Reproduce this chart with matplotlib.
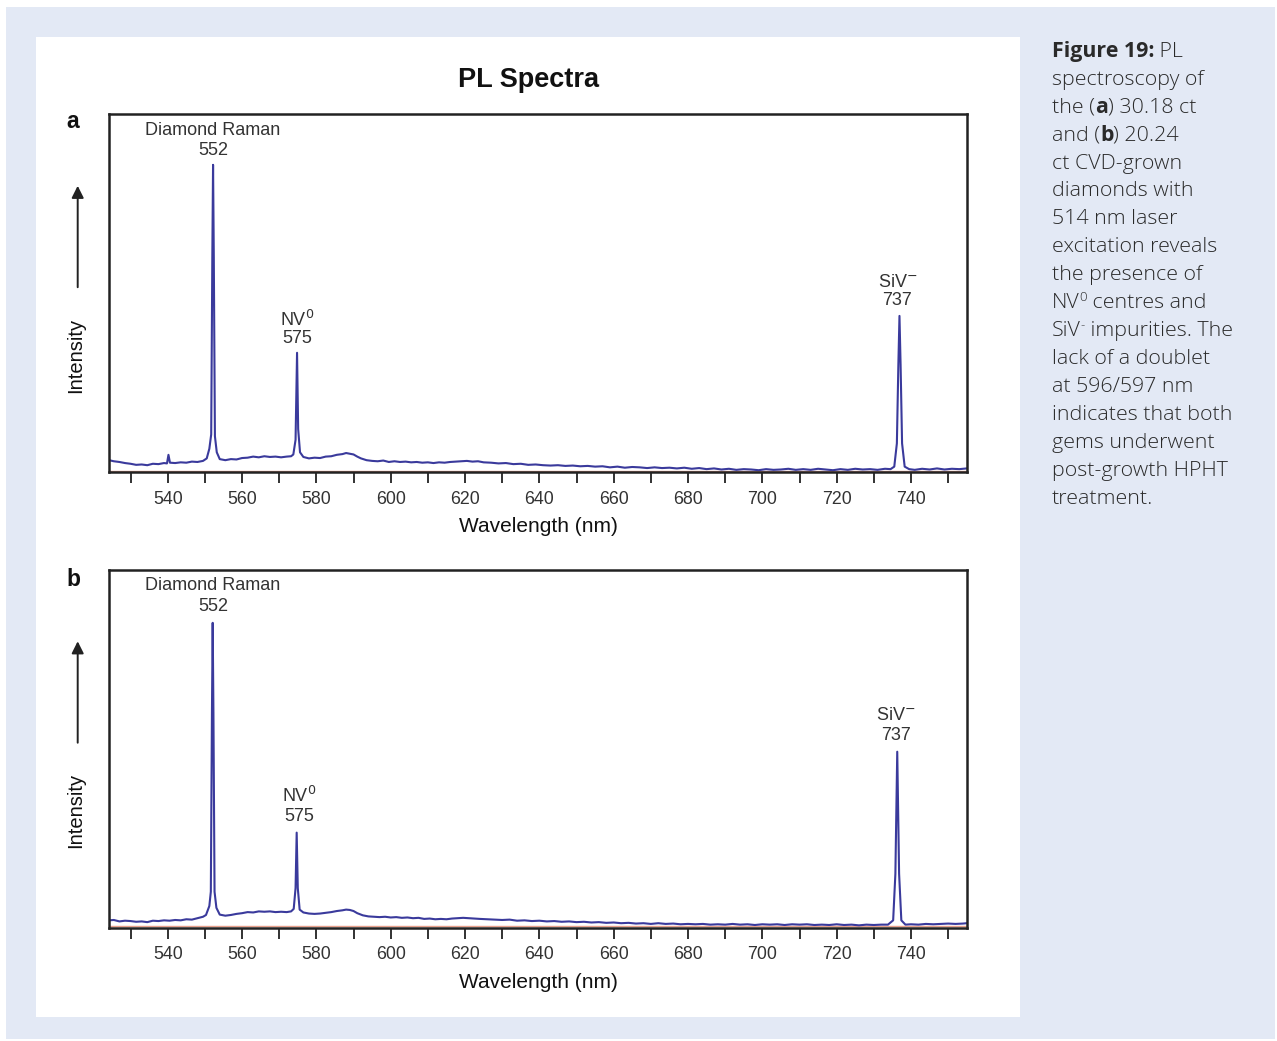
import matplotlib
matplotlib.use("Agg")
import matplotlib.pyplot as plt
from matplotlib.patches import Rectangle, FancyArrowPatch
from matplotlib.font_manager import FontProperties
from matplotlib.ticker import MultipleLocator

# ---------------- data ----------------
# (wavelength nm, relative intensity) pairs, panel a
spec_a = [
    (524.2, 3.3), (525.5, 3.0), (527, 2.8), (528.5, 2.5), (530, 2.3), (531.5, 2.0), (533, 2.1),
    (534.5, 1.9), (536, 2.3), (537.5, 2.2), (539, 2.5), (539.8, 2.4), (540.2, 4.8), (540.6, 2.6),
    (542, 2.5), (543.5, 2.7), (545, 2.6), (546.5, 2.9), (548, 2.8), (549.5, 3.1), (550.5, 3.8),
    (551.2, 6.5), (551.7, 10.5), (552.0, 60), (552.2, 85.8), (552.4, 60), (552.7, 10), (553.2, 5.5),
    (554, 3.6), (555.5, 3.3), (557, 3.6), (558.5, 3.5), (560, 3.9), (561.5, 4.0), (563, 4.3),
    (564.5, 4.1), (566, 4.4), (567.5, 4.2), (569, 4.3), (570.5, 4.1), (572, 4.3), (573.2, 4.4),
    (573.8, 4.9), (574.4, 9.0), (574.8, 33.3), (575.1, 12), (575.6, 5.5), (576.5, 4.2), (578, 3.8),
    (579.5, 4.0), (581, 3.9), (582.5, 4.3), (584, 4.4), (585.5, 4.8), (587, 5.0), (588, 5.3),
    (589, 5.1), (590, 4.9), (591, 4.3), (592, 3.8), (593.5, 3.3), (595, 3.1), (596.5, 3.0),
    (598, 3.2), (599.5, 2.8), (601, 3.0), (602.5, 2.8), (604, 2.9), (605.5, 2.7), (607, 2.8),
    (608.5, 2.6), (610, 2.7), (611.5, 2.5), (613, 2.7), (614.5, 2.6), (616, 2.8), (617.5, 2.9),
    (619, 3.0), (620.5, 3.1), (622, 2.9), (623.5, 3.0), (625, 2.7), (627, 2.6), (629, 2.4),
    (631, 2.5), (633, 2.2), (635, 2.3), (637, 2.0), (639, 2.1), (641, 1.9), (643, 1.8), (645, 1.9),
    (647, 1.7), (649, 1.8), (651, 1.6), (653, 1.7), (655, 1.5), (657, 1.6), (659, 1.3), (661, 1.5),
    (663, 1.2), (665, 1.4), (667, 1.3), (669, 1.1), (671, 1.3), (673, 1.1), (675, 1.2), (677, 1.0),
    (679, 1.2), (681, 0.9), (683, 1.1), (685, 0.8), (687, 1.0), (689, 0.7), (691, 0.9), (693, 0.6),
    (695, 0.8), (697, 0.7), (699, 0.5), (701, 0.8), (703, 0.6), (705, 0.7), (707, 0.9), (709, 0.6),
    (711, 0.8), (713, 0.6), (715, 0.9), (717, 0.7), (719, 0.5), (721, 0.8), (723, 0.6), (725, 0.9),
    (727, 0.7), (729, 0.8), (731, 0.6), (733, 0.9), (734.5, 0.8), (735.5, 1.5), (736.2, 8),
    (736.6, 30), (736.9, 43.6), (737.2, 30), (737.6, 8), (738.3, 1.5), (739.5, 0.8), (741, 0.6),
    (743, 0.9), (745, 0.7), (747, 1.0), (749, 0.7), (751, 0.9), (753, 0.8), (755, 1.0),
]
# panel b
spec_b = [
    (524.2, 2.0), (525.5, 2.1), (527, 1.7), (528.5, 1.9), (530, 1.8), (531.5, 1.6), (533, 1.7),
    (534.5, 1.5), (536, 1.9), (537.5, 1.8), (539, 2.0), (540.5, 1.9), (542, 2.1), (543.5, 2.0),
    (545, 2.3), (546.5, 2.2), (548, 2.6), (549.5, 3.0), (550.3, 3.5), (551.2, 6), (551.6, 10),
    (551.9, 60), (552.1, 85.1), (552.3, 60), (552.6, 10), (553.1, 5.5), (554, 3.6), (555.5, 3.3),
    (557, 3.5), (558.5, 3.8), (560, 4.0), (561.5, 4.3), (563, 4.2), (564.5, 4.5), (566, 4.4),
    (567.5, 4.5), (569, 4.3), (570.5, 4.4), (572, 4.3), (573.2, 4.5), (573.9, 5.2), (574.4, 11),
    (574.7, 26.5), (575.0, 11), (575.5, 5), (576.5, 4.2), (578, 3.9), (579.5, 3.8), (581, 3.9),
    (582.5, 4.1), (584, 4.3), (585.5, 4.6), (587, 4.8), (588, 5.0), (589, 4.9), (590, 4.6),
    (591, 4.0), (592.5, 3.4), (594, 3.1), (595.5, 3.0), (597, 2.9), (598.5, 3.0), (600, 2.8),
    (601.5, 2.9), (603, 2.7), (604.5, 2.8), (606, 2.6), (607.5, 2.7), (609, 2.4), (610.5, 2.5),
    (612, 2.3), (613.5, 2.4), (615, 2.3), (616.5, 2.5), (618, 2.6), (619.5, 2.7), (621, 2.6),
    (622.5, 2.5), (624, 2.4), (626, 2.3), (628, 2.2), (630, 2.1), (632, 2.2), (634, 1.9),
    (636, 2.0), (638, 1.8), (640, 1.9), (642, 1.7), (644, 1.8), (646, 1.6), (648, 1.7), (650, 1.5),
    (652, 1.6), (654, 1.4), (656, 1.5), (658, 1.3), (660, 1.4), (662, 1.2), (664, 1.3), (666, 1.1),
    (668, 1.2), (670, 1.0), (672, 1.2), (674, 1.0), (676, 1.1), (678, 0.9), (680, 1.0), (682, 0.9),
    (684, 1.0), (686, 0.8), (688, 0.9), (690, 0.8), (692, 1.0), (694, 0.8), (696, 0.9), (698, 0.7),
    (700, 0.9), (702, 0.8), (704, 0.9), (706, 0.7), (708, 0.9), (710, 0.8), (712, 0.9), (714, 0.7),
    (716, 0.8), (718, 0.7), (720, 0.9), (722, 0.7), (724, 0.8), (726, 0.6), (728, 0.8), (730, 0.7),
    (732, 0.8), (733.8, 0.8), (735.2, 2), (735.8, 15), (736.1, 35), (736.3, 49.1), (736.5, 35),
    (736.8, 15), (737.4, 2), (738.5, 0.8), (740, 0.9), (742, 0.8), (744, 1.0), (746, 0.9),
    (748, 1.0), (750, 1.1), (752, 1.0), (754, 1.1), (755, 1.2),
]
wl_a = [p[0] for p in spec_a]
int_a = [p[1] for p in spec_a]
wl_b = [p[0] for p in spec_b]
int_b = [p[1] for p in spec_b]

major_ticks = [540, 560, 580, 600, 620, 640, 660, 680, 700, 720, 740]

# peak labels: (line 1, line 2, x, y line 1, y line 2)
labels_a = [("Diamond Raman", "552", 552.2, 95.3, 89.7),
            ("NV$^{0}$", "575", 574.8, 42.5, 37.4),
            ("SiV$^{-}$", "737", 736.3, 52.8, 48.0)]
labels_b = [("Diamond Raman", "552", 552.2, 95.4, 89.8),
            ("NV$^{0}$", "575", 575.3, 36.7, 31.1),
            ("SiV$^{-}$", "737", 736.0, 59.1, 53.5)]

caption = [
    [("Figure 19:", "bold"), (" PL", "light")],
    [("spectroscopy of", "light")],
    [("the (", "light"), ("a", "bold"), (") 30.18 ct", "light")],
    [("and (", "light"), ("b", "bold"), (") 20.24", "light")],
    [("ct CVD-grown", "light")],
    [("diamonds with", "light")],
    [("514 nm laser", "light")],
    [("excitation reveals", "light")],
    [("the presence of", "light")],
    [("NV", "light"), ("0", "sup"), (" centres and", "light")],
    [("SiV", "light"), ("-", "sup"), (" impurities. The", "light")],
    [("lack of a doublet", "light")],
    [("at 596/597 nm", "light")],
    [("indicates that both", "light")],
    [("gems underwent", "light")],
    [("post-growth HPHT", "light")],
    [("treatment.", "light")],
]

# ---------------- figure ----------------
W, H = 1277, 1041
fig = plt.figure(figsize=(W / 100, H / 100), dpi=100)
fig.patch.set_facecolor("white")

def fx(px):
    return px / W

def fy(py):
    return 1 - py / H

fig.add_artist(Rectangle((fx(6), fy(1039)), fx(1275) - fx(6), fy(7) - fy(1039),
                         transform=fig.transFigure, facecolor="#e3e9f5", edgecolor="none", zorder=-10))
fig.add_artist(Rectangle((fx(36), fy(1017)), fx(1020) - fx(36), fy(37) - fy(1017),
                         transform=fig.transFigure, facecolor="white", edgecolor="none", zorder=-9))

chart_font = ["Liberation Sans", "DejaVu Sans"]
line_color = "#3a3a9c"

fig.text(fx(529), fy(80), "PL Spectra", ha="center", va="center", fontsize=19.5,
         fontweight="bold", family=chart_font, color="#111111")

def make_panel(top_px, wl, inten, labels, letter, letter_y):
    bottom_px = top_px + 358
    ax = fig.add_axes([fx(109), fy(bottom_px), fx(967) - fx(109), 358 / H])
    ax.plot(wl, [0.35] * len(wl), color="#e8a08c", lw=1.0, zorder=1)
    ax.plot(wl, inten, color=line_color, lw=1.5, zorder=2)
    ax.set_xlim(524.2, 755.07)
    ax.set_ylim(0, 100)
    ax.set_yticks([])
    ax.set_xticks(major_ticks)
    ax.xaxis.set_minor_locator(MultipleLocator(10))
    ax.tick_params(axis="x", which="both", direction="out", length=8, width=1.3,
                   color="#222222", pad=5.5, labelsize=12.8, labelcolor="#333333")
    for lab in ax.get_xticklabels():
        lab.set_family(chart_font)
    for sp in ax.spines.values():
        sp.set_linewidth(1.8)
        sp.set_color("#222222")
    ax.set_xlabel("Wavelength (nm)", fontsize=15, family=chart_font, labelpad=7, color="#111111")
    for l1, l2, x, y1, y2 in labels:
        ax.text(x, y1, l1, ha="center", va="center", fontsize=13, family=chart_font, color="#333333")
        ax.text(x, y2, l2, ha="center", va="center", fontsize=13, family=chart_font, color="#333333")
    fig.text(fx(73), fy(letter_y), letter, ha="center", va="center", fontsize=16.5,
             fontweight="bold", family=chart_font, color="#111111")
    fig.text(fx(76), fy(top_px + 241), "Intensity", rotation=90, ha="center", va="center",
             fontsize=14.5, family=chart_font, color="#111111")
    fig.add_artist(FancyArrowPatch((fx(77.7), fy(top_px + 176)), (fx(77.7), fy(top_px + 69)),
                                   transform=fig.transFigure, arrowstyle="-|>",
                                   mutation_scale=18, lw=1.4, color="#222222"))
    return ax

make_panel(114, wl_a, int_a, labels_a, "a", 122)
make_panel(569.5, wl_b, int_b, labels_b, "b", 580)

# ---------------- caption ----------------
renderer = fig.canvas.get_renderer()
cap_fs = 15.4
cap_family = ["Open Sans", "DejaVu Sans"]

def text_width(s, fp):
    w1, _, _ = renderer.get_text_width_height_descent("x" + s + "x", fp, ismath=False)
    w2, _, _ = renderer.get_text_width_height_descent("xx", fp, ismath=False)
    return w1 - w2

base_y = 56.7
for i, segs in enumerate(caption):
    y = base_y + i * 27.96
    x = 1052
    for s, kind in segs:
        if kind == "bold":
            fp = FontProperties(family=cap_family, size=cap_fs, weight="bold")
            dy = 0
        elif kind == "sup":
            fp = FontProperties(family=cap_family, size=cap_fs * 0.62, weight="light")
            dy = 7
        else:
            fp = FontProperties(family=cap_family, size=cap_fs, weight="light")
            dy = 0
        fig.text(fx(x), fy(y - dy), s, fontproperties=fp, ha="left", va="baseline", color="#2a2a2a")
        x += text_width(s, fp) * 100 / fig.dpi

fig.savefig("out.png", dpi=100, facecolor=fig.get_facecolor())
